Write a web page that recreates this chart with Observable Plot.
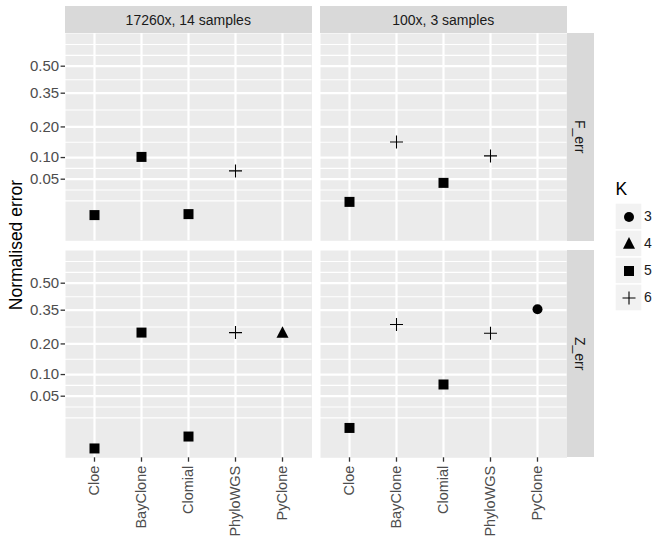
<!DOCTYPE html>
<html>
<head>
<meta charset="utf-8">
<script src="https://cdn.jsdelivr.net/npm/d3@7"></script>
<script src="https://cdn.jsdelivr.net/npm/@observablehq/plot@0.6"></script>
<style>
  html, body { margin: 0; padding: 0; background: #ffffff; }
  #root { position: relative; width: 652px; height: 536px; overflow: hidden;
          font-family: "Liberation Sans", Arial, Helvetica, sans-serif; background: #ffffff; }
  .strip { position: absolute; background: #D9D9D9; color: #1A1A1A; font-size: 14px;
           display: flex; align-items: center; justify-content: center; white-space: nowrap; }
  .stripY { writing-mode: vertical-rl; }
</style>
</head>
<body>
<div id="root"></div>
<script>
// ---------------- data ----------------
const methods = ["Cloe", "BayClone", "Clomial", "PhyloWGS", "PyClone"];
const depths = ["17260x, 14 samples", "100x, 3 samples"];
const metrics = ["F_err", "Z_err"];
const kLevels = [3, 4, 5, 6];
const yTicks = [0.05, 0.10, 0.20, 0.35, 0.50];
const yMinor = [0.01716, 0.03143, 0.07286, 0.14571, 0.26979, 0.42167, 0.56764, 0.63957];
const yDomain = [-0.0016, 0.7174];

// normalised error per method (null = no point), and K per method
const errF17260 = [0.0049, 0.1017, 0.0055, 0.0671, null];
const kF17260   = [5, 5, 5, 6, null];
const errF100   = [0.0160, 0.1467, 0.0432, 0.1045, null];
const kF100     = [5, 6, 5, 6, null];
const errZ17260 = [0.0000, 0.2458, 0.0026, 0.2458, 0.2433];
const kZ17260   = [5, 5, 5, 6, 4];
const errZ100   = [0.0077, 0.2810, 0.0749, 0.2429, 0.3545];
const kZ100     = [5, 6, 5, 6, 3];

// ---------------- symbols (ggplot shapes 16, 17, 15, 3) ----------------
const symCircle = { draw(c) { c.moveTo(5, 0); c.arc(0, 0, 5, 0, 2 * Math.PI); c.closePath(); } };
const symTriangle = { draw(c) { c.moveTo(0, -6.9); c.lineTo(6, 4.7); c.lineTo(-6, 4.7); c.closePath(); } };
const symSquare = { draw(c) { c.rect(-5, -5, 10, 10); } };
const symPlus = { draw(c) { c.rect(-6.5, -0.55, 13, 1.1); c.rect(-0.55, -6.5, 1.1, 13); } };
const symbolScale = { domain: kLevels, range: [symCircle, symTriangle, symSquare, symPlus] };

// ---------------- layout ----------------
const W = 652, H = 536;
const colX = [65, 320];
const rowY = [33.3, 250];
const PW = 246.5, PH = 207.3;
const FONT = '"Liberation Sans", Arial, Helvetica, sans-serif';
const root = document.getElementById("root");

const panels = [
  { row: 0, col: 0, err: errF17260, k: kF17260 },
  { row: 0, col: 1, err: errF100,   k: kF100 },
  { row: 1, col: 0, err: errZ17260, k: kZ17260 },
  { row: 1, col: 1, err: errZ100,   k: kZ100 }
];

for (const p of panels) {
  const data = methods.map((m, i) => ({ method: m, err: p.err[i], k: p.k[i] })).filter(d => d.err != null);
  const mL = p.col === 0 ? 65 : 0;
  const mB = p.row === 1 ? (H - (rowY[1] + PH)) : 0;
  const marks = [
    Plot.frame({ fill: "#EBEBEB", stroke: null }),
    Plot.ruleY(yMinor, { stroke: "white", strokeWidth: 1.1 }),
    Plot.ruleY(yTicks, { stroke: "white", strokeWidth: 2.2 }),
    Plot.ruleX(methods, { stroke: "white", strokeWidth: 2.2 }),
    Plot.dot(data, { x: "method", y: "err", symbol: "k", fill: "black", stroke: "none" })
  ];
  if (p.col === 0) {
    marks.push(Plot.axisY({ ticks: yTicks, tickFormat: d3.format(".2f"), tickSize: 4.4, tickPadding: 2,
      stroke: "#333333", strokeWidth: 1.3, fill: "#4D4D4D", fontSize: 15, label: null }));
  }
  if (p.row === 1) {
    marks.push(Plot.axisX({ tickRotate: -90, tickSize: 4.4, tickPadding: 3.5,
      stroke: "#333333", strokeWidth: 1.3, fill: "#4D4D4D", fontSize: 14.5, label: null }));
  }
  const svg = Plot.plot({
    width: PW + mL, height: PH + mB,
    marginLeft: mL, marginRight: 0, marginTop: 0, marginBottom: mB,
    style: { background: "transparent", fontFamily: FONT, fontSize: "14px", overflow: "visible" },
    x: { type: "point", domain: methods, padding: 0.6, label: null, ...(p.row === 1 ? {} : { axis: null }) },
    y: { type: "sqrt", domain: yDomain, label: null, ...(p.col === 0 ? {} : { axis: null }) },
    symbol: symbolScale,
    marks
  });
  svg.style.position = "absolute";
  svg.style.left = (colX[p.col] - mL) + "px";
  svg.style.top = rowY[p.row] + "px";
  root.appendChild(svg);
}

// ---------------- strips ----------------
depths.forEach((d, i) => {
  const s = document.createElement("div");
  s.className = "strip";
  s.style.left = colX[i] + "px"; s.style.top = "6px";
  s.style.width = PW + "px"; s.style.height = (rowY[0] - 6) + "px";
  s.textContent = d;
  root.appendChild(s);
});
metrics.forEach((m, i) => {
  const s = document.createElement("div");
  s.className = "strip stripY";
  s.style.left = (colX[1] + PW) + "px"; s.style.top = rowY[i] + "px";
  s.style.width = "27.5px"; s.style.height = PH + "px";
  s.textContent = m;
  root.appendChild(s);
});

// ---------------- y axis title ----------------
const yt = document.createElement("div");
yt.textContent = "Normalised error";
Object.assign(yt.style, { position: "absolute", left: "17px", top: "245px", fontSize: "17.5px", color: "#000",
  whiteSpace: "nowrap", transform: "translate(-50%, -50%) rotate(-90deg)", lineHeight: "1" });
root.appendChild(yt);

// ---------------- legend ----------------
const legend = Plot.plot({
  width: 52, height: 150, margin: 0,
  style: { background: "transparent", fontFamily: FONT, fontSize: "14px", overflow: "visible" },
  x: { type: "band", domain: ["key"], range: [15, 42.5], padding: 0, axis: null },
  y: { type: "band", domain: kLevels, range: [31.5, 141.5], padding: 0, axis: null },
  symbol: symbolScale,
  marks: [
    Plot.text(["K"], { frameAnchor: "top-left", dx: 15, dy: 19, textAnchor: "start", lineAnchor: "middle",
      fontSize: 17.5, fill: "#000" }),
    Plot.cell(kLevels, { x: () => "key", y: d => d, fill: "#F2F2F2", stroke: "white", strokeWidth: 1.4 }),
    Plot.dot(kLevels, { x: () => "key", y: d => d, symbol: d => d, fill: "black", stroke: "none" }),
    Plot.text(kLevels, { x: () => "key", y: d => d, text: d => String(d), textAnchor: "start", dx: 15,
      fill: "#1A1A1A", fontSize: 14 })
  ]
});
legend.style.position = "absolute";
legend.style.left = "600px";
legend.style.top = "170px";
root.appendChild(legend);
</script>
</body>
</html>
